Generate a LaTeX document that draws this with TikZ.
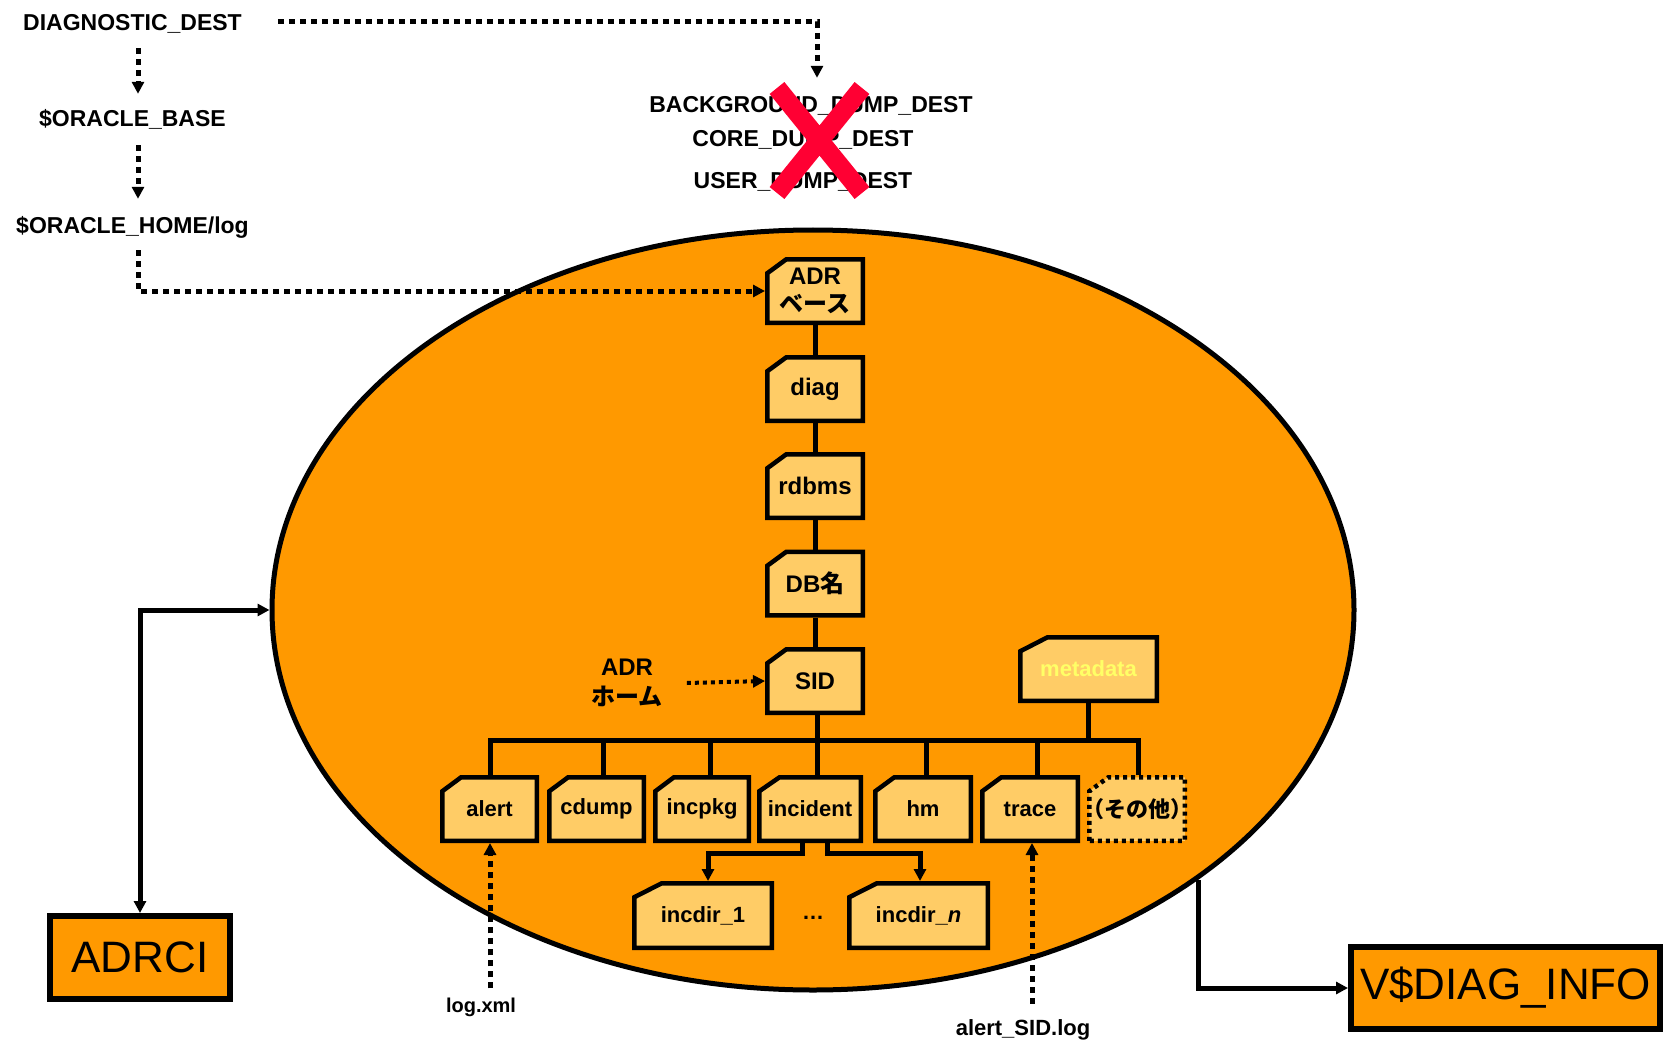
\documentclass[tikz,border=0pt]{standalone}
\usepackage{fontspec}
\setmainfont{Liberation Sans}
\newfontfamily\jp{Noto Sans CJK JP}
\usetikzlibrary{arrows.meta,shapes.geometric}
\definecolor{orangefill}{HTML}{FF9900}
\definecolor{boxfill}{HTML}{FFCC66}
\definecolor{metatext}{HTML}{FFFF66}
\definecolor{crossred}{HTML}{FF0033}
\tikzset{
  lbl/.style={font=\bfseries\fontsize{23}{27}\selectfont, inner sep=0pt, text height=17pt, text depth=0pt},
  boxtxt/.style={font=\bfseries\fontsize{22}{26}\selectfont, inner sep=0pt, outer sep=2.25pt, align=center},
  chaintxt/.style={font=\bfseries\fontsize{24}{28}\selectfont},
  folderline/.style={draw=black, line width=4.5pt, fill=boxfill, line join=miter},
  treeline/.style={line width=5pt},
  conn/.style={line width=5pt},
  dotarrow/.style={line width=5pt, dash pattern=on 6pt off 5pt, ->},
  smalldot/.style={line width=4pt, dash pattern=on 4pt off 4pt, ->},
  bigbox/.style={draw=black, line width=6pt, fill=orangefill, font=\fontsize{44}{50}\selectfont, inner sep=0pt},
}
\newcommand{\myfolder}[7][]{%
  \filldraw[folderline,#1] ({#3-#5/2},{#4+#6/2}) -- ({#3-#5/2},{#4-#6/2+14}) -- ({#3-#5/2+0.2*#5},{#4-#6/2}) -- ({#3+#5/2},{#4-#6/2}) -- ({#3+#5/2},{#4+#6/2}) -- cycle;
  \node[boxtxt, minimum width=#5pt, minimum height=#6pt, #1] (#2) at (#3,#4) {#7};%
}
\begin{document}
\begin{tikzpicture}[x=1pt,y=-1pt, >={Triangle[length=12pt,width=12pt]}]
\useasboundingbox (0,0) rectangle (1668,1043);
\fill[white] (0,0) rectangle (1668,1043);

% big ellipse
\node[ellipse, draw=black, line width=5pt, fill=orangefill, minimum width=1082pt, minimum height=760pt, inner sep=0pt] (ell) at (813,610) {};

% left chain of labels
\node[lbl] (ddest) at (132.5,22) {DIAGNOSTIC\_DEST};
\node[lbl] (obase) at (132.5,118) {\$ORACLE\_BASE};
\node[lbl] (ohlog) at (132.5,225.5) {\$ORACLE\_HOME/log};

% old parameters
\node[lbl] (bgd) at (811,104) {BACKGROUND\_DUMP\_DEST};
\node[lbl] (cdd) at (803,138) {CORE\_DUMP\_DEST};
\node[lbl] (udd) at (803,180) {USER\_DUMP\_DEST};

% folders: chain
\myfolder[chaintxt]{adr}{815}{291}{95.5}{63.5}{ADR\\{\jp ベース}}
\myfolder[chaintxt]{diag}{815}{389}{95.5}{63.5}{diag}
\myfolder[chaintxt]{rdbms}{815}{486}{95.5}{63.5}{rdbms}
\myfolder[chaintxt]{dbn}{815}{583.5}{95.5}{63.5}{DB{\jp 名}}
\myfolder[chaintxt]{sid}{815}{681}{95.5}{63.5}{SID}
\myfolder{meta}{1088.5}{669}{136.5}{63.5}{\textcolor{metatext}{metadata}}

% children
\myfolder{alert}{489.5}{809}{94.5}{63.5}{alert}
\myfolder{cdump}{596.5}{809}{94.5}{63.5}{cdump}
\myfolder{incpkg}{702}{809}{93.5}{63.5}{incpkg}
\myfolder{incident}{810}{809}{101.5}{63.5}{incident}
\myfolder{hm}{923}{809}{95.5}{63.5}{hm}
\myfolder{trace}{1030}{809}{95.5}{63.5}{trace}
\myfolder[dash pattern=on 4pt off 4pt]{other}{1137}{809}{95.5}{63.5}{{\jp （その他）}}

% incident children
\myfolder{incdira}{703}{915.5}{137.5}{64.5}{incdir\_1}
\myfolder{incdirn}{918.5}{915.5}{138.5}{64.5}{incdir\_\textit{n}}
\node[boxtxt] (dots) at (813,918) {…};

% ADR home label
\node[font=\bfseries\fontsize{24}{30}\selectfont, align=center, inner sep=0pt] (adrhome) at (627,683) {ADR\\{\jp ホーム}};

% file labels
\node[font=\bfseries\fontsize{20}{24}\selectfont, inner sep=0pt] (logxml) at (481,1007) {log.xml};
\node[font=\bfseries\fontsize{22}{26}\selectfont, inner sep=0pt] (alertsid) at (1023,1030) {alert\_SID.log};

% tools
\node[bigbox, minimum width=180pt, minimum height=83pt] (adrci) at (140,957.5) {ADRCI};
\node[bigbox, minimum width=309pt, minimum height=82pt] (vdiag) at (1505.5,988) {V\$DIAG\_INFO};

% tree lines
\draw[treeline] (adr.south) -- (diag.north);
\draw[treeline] (diag.south) -- (rdbms.north);
\draw[treeline] (rdbms.south) -- (dbn.north);
\draw[treeline] (dbn.south) -- (sid.north);
\coordinate (busL) at (490,740);
\coordinate (busR) at (1138,740);
\draw[treeline, line cap=rect] (busL) -- (busR);
\draw[treeline] ([xshift=2pt]sid.south) -- ([xshift=2pt]sid.south |- busL);
\draw[treeline] (meta.south) -- (meta.south |- busL);
\draw[treeline] ([xshift=0.5pt]alert.north) -- ([xshift=0.5pt]alert.north |- busL);
\draw[treeline] ([xshift=6.5pt]cdump.north) -- ([xshift=6.5pt]cdump.north |- busL);
\draw[treeline] ([xshift=8pt]incpkg.north) -- ([xshift=8pt]incpkg.north |- busL);
\draw[treeline] ([xshift=7pt]incident.north) -- ([xshift=7pt]incident.north |- busL);
\draw[treeline] ([xshift=3pt]hm.north) -- ([xshift=3pt]hm.north |- busL);
\draw[treeline] ([xshift=7pt]trace.north) -- ([xshift=7pt]trace.north |- busL);
\draw[treeline] ([xshift=1pt]other.north) -- ([xshift=1pt]other.north |- busL);

\draw[treeline, ->] ([xshift=-8pt]incident.south) -- ++(0,10) -| ([xshift=5pt]incdira.north);
\draw[treeline, ->] ([xshift=17pt]incident.south) -- ++(0,10) -| ([xshift=1.5pt]incdirn.north);

% dotted arrows
\draw[dotarrow] ([xshift=5.5pt,yshift=-17.5pt]ddest.south) -- ([xshift=5.5pt,yshift=15.5pt]obase.north);
\draw[dotarrow] ([xshift=5.5pt,yshift=-18.5pt]obase.south) -- ([xshift=5.5pt,yshift=18pt]ohlog.north);
\draw[dotarrow] ([xshift=5.5pt,yshift=-16pt]ohlog.south) |- (adr.west);
\draw[dotarrow] ([xshift=36pt]ddest.east) -| ([xshift=6pt,yshift=17.5pt]bgd.north);
\draw[smalldot] ([xshift=24pt]adrhome.east) -- (sid.west);
\draw[dotarrow] (alert.south |- logxml.north) ++(0.5,-9) -- ([xshift=0.5pt]alert.south);
\draw[dotarrow] (trace.south |- alertsid.north) ++(2,-16) -- ([xshift=2pt]trace.south);

% tool connectors
\draw[conn, <->] (adrci.north) |- (ell.west);
\draw[conn, ->] (ell.-35.6) |- (vdiag.west);

% red cross
\draw[crossred, line width=19pt] (777,88) -- (862,193) (862,88) -- (777,193);
\end{tikzpicture}
\end{document}
